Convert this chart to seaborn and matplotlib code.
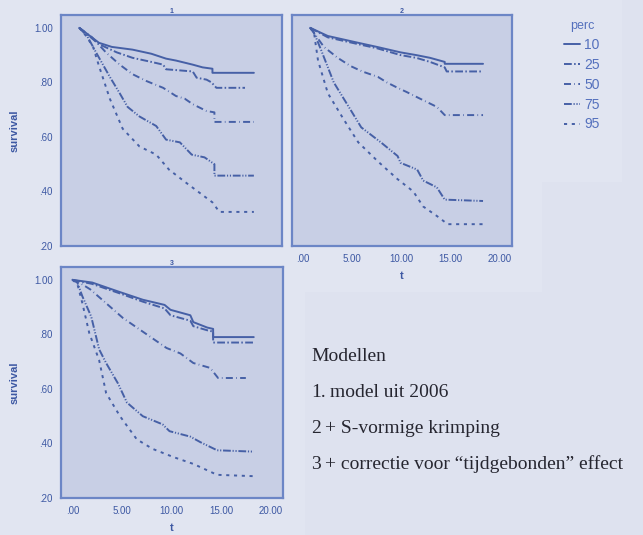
import numpy as np
import pandas as pd
import matplotlib
matplotlib.use("Agg")
import matplotlib.pyplot as plt
import seaborn as sns
from matplotlib.patches import Rectangle

# ---------------- data ----------------
perc_levels = ["10", "25", "50", "75", "95"]
panel_titles = ["1", "2", "3"]
x_ticks = [0, 5, 10, 15, 20]
x_tick_labels = [".00", "5.00", "10.00", "15.00", "20.00"]
y_ticks = [0.2, 0.4, 0.6, 0.8, 1.0]
y_tick_labels = [".20", ".40", ".60", ".80", "1.00"]

# panel 1 (model uit 2006)
T1_10 = [0.7, 2.7, 4.0, 6.1, 8.0, 9.5, 10.5, 12.2, 13.2, 14.2, 14.2, 18.4]
S1_10 = [1.0, 0.945, 0.93, 0.92, 0.905, 0.887, 0.88, 0.865, 0.855, 0.85, 0.835, 0.835]
T1_25 = [0.7, 2.7, 4.5, 6.1, 8.0, 9.2, 9.5, 12.2, 12.6, 13.6, 14.1, 14.6, 17.5]
S1_25 = [1.0, 0.94, 0.91, 0.89, 0.875, 0.865, 0.848, 0.84, 0.817, 0.81, 0.80, 0.78, 0.78]
T1_50 = [0.7, 2.0, 3.4, 4.8, 6.1, 7.5, 9.2, 10.5, 11.4, 12.2, 13.6, 14.4, 14.4, 18.4]
S1_50 = [1.0, 0.965, 0.91, 0.865, 0.83, 0.805, 0.78, 0.75, 0.74, 0.72, 0.695, 0.69, 0.655, 0.655]
T1_75 = [0.7, 1.5, 2.4, 3.8, 4.8, 5.6, 6.8, 8.5, 9.5, 10.9, 12.1, 13.4, 14.4, 14.4, 18.4]
S1_75 = [1.0, 0.97, 0.91, 0.82, 0.76, 0.71, 0.675, 0.64, 0.59, 0.58, 0.535, 0.525, 0.50, 0.458, 0.458]
T1_95 = [0.7, 1.4, 2.1, 2.7, 3.8, 5.1, 6.8, 8.5, 9.8, 11.6, 12.9, 14.2, 14.9, 18.4]
S1_95 = [1.0, 0.97, 0.93, 0.86, 0.74, 0.63, 0.565, 0.535, 0.48, 0.43, 0.395, 0.36, 0.325, 0.325]

# panel 2 (+ S-vormige krimping)
T2_10 = [0.7, 2.5, 5.6, 7.5, 9.9, 11.5, 12.9, 14.4, 14.4, 18.3]
S2_10 = [1.0, 0.97, 0.945, 0.93, 0.91, 0.90, 0.89, 0.875, 0.868, 0.868]
T2_25 = [0.7, 2.5, 5.6, 7.5, 9.9, 11.5, 12.9, 14.4, 14.6, 18.3]
S2_25 = [1.0, 0.965, 0.94, 0.925, 0.90, 0.89, 0.875, 0.855, 0.84, 0.84]
T2_50 = [0.7, 2.1, 3.5, 4.8, 6.0, 7.6, 8.5, 9.6, 10.5, 11.9, 13.6, 14.4, 18.3]
S2_50 = [1.0, 0.93, 0.89, 0.86, 0.84, 0.82, 0.80, 0.78, 0.765, 0.74, 0.71, 0.68, 0.68]
T2_75 = [0.7, 1.0, 1.8, 3.1, 4.8, 5.9, 7.9, 9.6, 9.9, 11.6, 12.2, 13.6, 14.4, 18.3]
S2_75 = [1.0, 0.99, 0.92, 0.80, 0.70, 0.635, 0.58, 0.53, 0.505, 0.48, 0.44, 0.415, 0.37, 0.365]
T2_95 = [0.7, 1.1, 1.5, 2.5, 4.1, 5.6, 7.6, 9.6, 11.2, 12.2, 13.6, 14.7, 18.3]
S2_95 = [1.0, 0.98, 0.88, 0.76, 0.665, 0.58, 0.51, 0.445, 0.40, 0.345, 0.31, 0.28, 0.28]

# panel 3 (+ correctie voor tijdgebonden effect)
T3_10 = [0.0, 2.0, 4.8, 7.1, 9.3, 9.9, 11.9, 12.2, 13.6, 14.2, 14.2, 18.3]
S3_10 = [1.0, 0.99, 0.955, 0.927, 0.908, 0.89, 0.87, 0.845, 0.825, 0.82, 0.79, 0.79]
T3_25 = [0.0, 2.0, 4.8, 7.1, 9.3, 9.9, 11.9, 12.2, 13.6, 14.2, 14.2, 18.3]
S3_25 = [1.0, 0.985, 0.95, 0.92, 0.895, 0.87, 0.85, 0.83, 0.815, 0.81, 0.77, 0.77]
T3_50 = [0.0, 0.7, 1.8, 3.0, 5.1, 7.1, 9.5, 10.9, 12.2, 13.9, 14.7, 17.5]
S3_50 = [1.0, 0.99, 0.965, 0.927, 0.86, 0.81, 0.75, 0.73, 0.695, 0.677, 0.64, 0.64]
T3_75 = [0.0, 0.5, 1.0, 1.9, 2.7, 3.4, 4.6, 5.5, 7.1, 9.1, 9.8, 11.9, 12.9, 14.6, 18.3]
S3_75 = [1.0, 0.99, 0.94, 0.865, 0.745, 0.695, 0.62, 0.55, 0.50, 0.47, 0.445, 0.425, 0.405, 0.375, 0.37]
T3_95 = [0.0, 0.5, 1.0, 1.7, 2.7, 3.4, 4.8, 6.5, 8.1, 10.2, 12.2, 14.6, 18.3]
S3_95 = [1.0, 0.985, 0.915, 0.805, 0.705, 0.585, 0.50, 0.415, 0.38, 0.35, 0.325, 0.285, 0.28]

model_lines = [("Modellen", None),
               ("1.", "model uit 2006"),
               ("2", "+ S-vormige krimping"),
               ("3", "+ correctie voor \u201ctijdgebonden\u201d effect")]

panels = [
    {"10": (T1_10, S1_10), "25": (T1_25, S1_25), "50": (T1_50, S1_50), "75": (T1_75, S1_75), "95": (T1_95, S1_95)},
    {"10": (T2_10, S2_10), "25": (T2_25, S2_25), "50": (T2_50, S2_50), "75": (T2_75, S2_75), "95": (T2_95, S2_95)},
    {"10": (T3_10, S3_10), "25": (T3_25, S3_25), "50": (T3_50, S3_50), "75": (T3_75, S3_75), "95": (T3_95, S3_95)},
]

def to_frame(pdict):
    rows = []
    for p in perc_levels:
        t, s = pdict[p]
        for a, b in zip(t, s):
            rows.append({"t": a, "survival": b, "perc": p})
    return pd.DataFrame(rows)

# ---------------- style ----------------
sns.set_theme(style="white")
plt.rcParams["font.family"] = ["Liberation Sans", "DejaVu Sans"]

W, H = 643, 535
BG = "#dee2ef"
BG_LIGHT = "#e1e5f1"
FACE = "#c8cfe5"
FRAME = "#6c86c6"
LINE = "#4660a6"
TXT = "#3d58a3"
LEGTXT = "#5470bd"

fig = plt.figure(figsize=(W / 100, H / 100), dpi=100)
fig.patch.set_facecolor(BG)
for (x0, y0, x1, y1) in [(0, 0, 622, 182), (0, 0, 542, 292), (0, 0, 305, 535)]:
    fig.patches.append(Rectangle((x0 / W, 1 - y1 / H), (x1 - x0) / W, (y1 - y0) / H,
                                 transform=fig.transFigure, facecolor=BG_LIGHT,
                                 edgecolor="none", zorder=-10))

def box(l, t, r, b):
    return [l / W, 1 - b / H, (r - l) / W, (b - t) / H]

axes = [fig.add_axes(box(61, 15, 282, 246)),
        fig.add_axes(box(292, 15, 512, 246)),
        fig.add_axes(box(61, 267, 283, 498))]

dashes = {"10": "", "25": (4, 1.2, 0.8, 1.2), "50": (3.6, 1.7, 0.35, 1.7),
          "75": (4, 0.9, 0.6, 0.9, 0.6, 0.9), "95": (1.6, 2.4)}

for k, (ax, pdict) in enumerate(zip(axes, panels)):
    df = to_frame(pdict)
    sns.lineplot(data=df, x="t", y="survival", style="perc", style_order=perc_levels,
                 dashes=dashes, color=LINE, estimator=None, sort=False,
                 units="perc", linewidth=1.4, ax=ax, legend=(k == 1))
    ax.set_facecolor(FACE)
    ax.set_xlim(-1.15, 21.25)
    ax.set_ylim(0.2, 1.047)
    for sp in ax.spines.values():
        sp.set_visible(True)
        sp.set_color(FRAME)
        sp.set_linewidth(1.6)
    ax.set_title(panel_titles[k], fontsize=5, color=TXT, pad=1.5, fontweight="bold")
    ax.set_xlabel("")
    ax.set_ylabel("")
    ax.tick_params(colors=FRAME, labelcolor=TXT, labelsize=7, length=4, width=1.2,
                   direction="out", pad=2)
    if k == 0:
        ax.set_xticks([])
    else:
        ax.set_xticks(x_ticks)
        ax.set_xticklabels(x_tick_labels)
        ax.set_xlabel("t", fontsize=8, fontweight="bold", color=TXT, labelpad=5)
    if k == 1:
        ax.set_yticks([])
    else:
        ax.set_yticks(y_ticks)
        ax.set_yticklabels(y_tick_labels)
        ax.set_ylabel("survival", fontsize=8, fontweight="bold", color=TXT, labelpad=10)

leg_ax = axes[1]
sns.move_legend(leg_ax, loc="upper left", bbox_to_anchor=(556 / W, 1 - 12 / H),
                bbox_transform=fig.transFigure, frameon=False, title="perc",
                fontsize=10, title_fontsize=9, handlelength=1.1, handletextpad=0.35,
                labelspacing=0.42, borderpad=0.1)
leg = leg_ax.get_legend()
for txt in leg.get_texts():
    txt.set_color(LEGTXT)
leg.get_title().set_color(LEGTXT)
for h in leg.legend_handles:
    h.set_color(LINE)

# model description text
serif = ["Liberation Serif", "DejaVu Serif"]
baselines = [361, 397, 433, 469]
for (num, rest), yb in zip(model_lines, baselines):
    fig.text(311 / W, 1 - yb / H, num, family=serif, fontsize=14,
             color="#262630", va="baseline")
    if rest is not None:
        fig.text((330 if num == "1." else 325) / W, 1 - yb / H, rest, family=serif,
                 fontsize=14, color="#262630", va="baseline")

fig.savefig("out.png", dpi=100, facecolor=fig.get_facecolor())
